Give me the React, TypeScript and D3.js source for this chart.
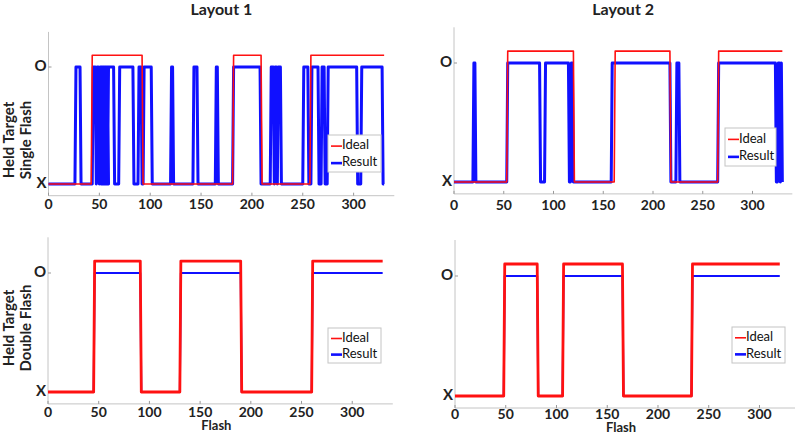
import React from 'react';
import * as d3 from 'd3';

// tick values and labels
const xTicks = [0, 50, 100, 150, 200, 250, 300];
const levelTicks = [0, 1];
const levelLabels = ['X', 'O'];
const columnTitles = ['Layout 1', 'Layout 2'];
const rowLabels = [
	['Held Target', 'Single Flash'],
	['Held Target', 'Double Flash']
];
const legendNames = ['Ideal', 'Result'];

// flash ranges [first, last] where the held target reads "O"
const ideal1 = [[43, 92], [182, 209], [258, 330]];
const result1 = [
	[27, 31], [44, 46], [48, 49], [51, 52], [53, 54], [55, 56], [57, 58], [59, 64],
	[70, 83], [89, 91], [94, 101], [121, 122], [143, 146], [165, 166], [182, 208],
	[219, 221], [223, 224], [226, 228], [251, 255], [259, 265], [269, 271],
	[275, 303], [308, 328]
];
const ideal2 = [[54, 120], [162, 217], [266, 330]];
const result2 = [
	[20, 21], [54, 86], [92, 115], [118, 119], [159, 217], [224, 226],
	[266, 323], [326, 327], [329, 329]
];
const ideal3 = [[46, 91], [131, 190], [261, 330]];
const result3 = [[46, 91], [131, 190], [261, 330]];
const ideal4 = [[49, 81], [107, 165], [234, 320]];
const result4 = [[49, 81], [107, 165], [234, 320]];
const lastFlash = [330, 330, 330, 320];

const idealLevel = 1.1;
const resultLevel = 1;

const RED = '#ff1111';
const BLUE = '#1010ff';
const GRID = '#c4c4c4';
const FONT = 'Lato, "Open Sans", sans-serif';

// panel frames in pixels
const panels = [
	{ ideal: ideal1, result: result1, last: lastFlash[0], left: 48.5, right: 394.3, xMax: 340, bottom: 195.7, top: 31.9, tickY: 205, wide: 3, thin: 1.6, legend: { x: 328, y: 135, w: 53, h: 37 }, title: 0, row: 0, rowY: 140 },
	{ ideal: ideal2, result: result2, last: lastFlash[1], left: 454, right: 792.3, xMax: 340, bottom: 193.9, top: 27.3, tickY: 206, wide: 3, thin: 1.6, legend: { x: 725, y: 128, w: 51, h: 38 }, title: 1, row: -1, rowY: 0 },
	{ ideal: ideal3, result: result3, last: lastFlash[2], left: 48, right: 392.8, xMax: 340, bottom: 403.9, top: 237.3, tickY: 413, wide: 2, thin: 2.8, legend: { x: 328, y: 328, w: 53, h: 35 }, title: -1, row: 1, rowY: 328 },
	{ ideal: ideal4, result: result4, last: lastFlash[3], left: 455, right: 795, xMax: 335, bottom: 408, top: 240, tickY: 415, wide: 2, thin: 2.8, legend: { x: 732, y: 327, w: 53, h: 36 }, title: -1, row: -1, rowY: 0 }
];

const stepPoints = (ranges: number[][], level: number, last: number) => {
	const pts: [number, number][] = [[0, 0]];
	ranges.forEach(([a, b]) => {
		pts.push([a - 1, 0], [a, level], [b, level]);
		if (b < last) pts.push([b + 1, 0]);
	});
	const end = ranges[ranges.length - 1][1];
	if (end < last) pts.push([last, 0]);
	return pts;
};

const Panel = ({ p }: { p: (typeof panels)[number] }) => {
	const x = d3.scaleLinear().domain([0, p.xMax]).range([p.left, p.right]);
	const y = d3.scaleLinear().domain([-0.1, 1.3]).range([p.bottom, p.top]);
	const line = d3
		.line<[number, number]>()
		.x(d => x(d[0]))
		.y(d => y(d[1]));
	const bottomRow = p.title < 0;
	const lg = p.legend;
	return (
		<g>
			<line x1={p.left} x2={p.left} y1={p.top} y2={p.bottom} stroke={GRID} />
			<line x1={p.left} x2={p.right} y1={p.bottom} y2={p.bottom} stroke={GRID} />
			{xTicks.map(t => (
				<g key={t}>
					<line x1={x(t)} x2={x(t)} y1={p.bottom} y2={p.bottom - 3} stroke="#999" />
					<text x={x(t)} y={p.tickY} textAnchor="middle" dominantBaseline="middle" fontSize={14} fontWeight="bold" fill="#222">
						{t}
					</text>
				</g>
			))}
			{levelTicks.map((t, i) => (
				<g key={t}>
					<line x1={p.left} x2={p.left + 3} y1={y(t)} y2={y(t)} stroke="#999" />
					<text x={p.left - 2} y={y(t)} textAnchor="end" dominantBaseline="middle" fontSize={15} fontWeight="bold" fill="#222">
						{levelLabels[i]}
					</text>
				</g>
			))}
			<path d={line(stepPoints(p.result, resultLevel, p.last)) || ''} fill="none" stroke={BLUE} strokeWidth={p.wide} strokeLinejoin="round" />
			<path d={line(stepPoints(p.ideal, idealLevel, p.last)) || ''} fill="none" stroke={RED} strokeWidth={p.thin} strokeLinejoin="round" />
			<rect x={lg.x} y={lg.y} width={lg.w} height={lg.h} fill="white" stroke={GRID} />
			{legendNames.map((n, i) => {
				const ry = lg.y + lg.h * (i === 0 ? 0.3 : 0.76);
				return (
					<g key={n}>
						<line x1={lg.x + 3} x2={lg.x + 14} y1={ry} y2={ry} stroke={i === 0 ? RED : BLUE} strokeWidth={i === 0 ? 1.6 : 2.6} />
						<text x={lg.x + 14} y={ry} dominantBaseline="middle" fontSize={13} fill="#111">
							{n}
						</text>
					</g>
				);
			})}
			{p.title >= 0 && (
				<text x={(p.left + p.right) / 2} y={11} textAnchor="middle" dominantBaseline="middle" fontSize={16} fontWeight="bold" fill="#222">
					{columnTitles[p.title]}
				</text>
			)}
			{bottomRow && (
				<text x={(p.left + p.right) / 2 - 4} y={p.tickY + 14} textAnchor="middle" dominantBaseline="middle" fontSize={13} fontWeight="bold" fill="#222">
					Flash
				</text>
			)}
			{p.row >= 0 &&
				rowLabels[p.row].map((s, i) => {
					const cx = 10 + i * 17;
					return (
						<text key={s} transform={`translate(${cx},${p.rowY}) rotate(-90)`} textAnchor="middle" dominantBaseline="middle" fontSize={15} fontWeight="bold" fill="#222">
							{s}
						</text>
					);
				})}
		</g>
	);
};

export default function App() {
	return (
		<svg width={800} height={435} style={{ position: 'absolute', left: 0, top: 0, fontFamily: FONT }}>
			<rect width={800} height={435} fill="white" />
			{panels.map((p, i) => (
				<Panel key={i} p={p} />
			))}
		</svg>
	);
}
